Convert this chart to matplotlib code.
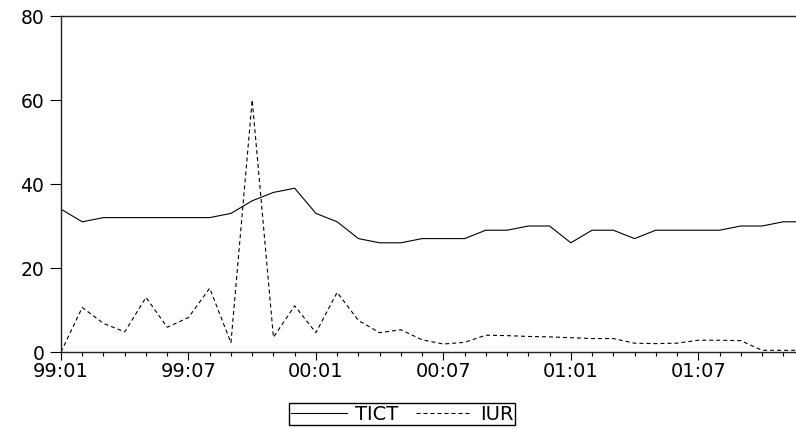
import matplotlib.pyplot as plt
import numpy as np
from matplotlib.ticker import MultipleLocator, FixedLocator

# monthly series 1999:01 - 2001:12
tict = [34, 31, 32, 32, 32, 32, 32, 32, 33, 36, 38, 39,
        33, 31, 27, 26, 26, 27, 27, 27, 29, 29, 30, 30,
        26, 29, 29, 27, 29, 29, 29, 29, 30, 30, 31, 31]
iur = [0.0, 10.6, 6.8, 4.8, 13.0, 5.9, 8.2, 15.2, 2.2, 60.0, 3.5, 11.0,
       4.6, 14.2, 7.5, 4.6, 5.3, 2.9, 1.9, 2.3, 4.0, 3.9, 3.7, 3.6,
       3.4, 3.2, 3.2, 2.1, 2.0, 2.1, 2.8, 2.8, 2.7, 0.4, 0.4, 0.4]
tick_labels = ['99:01', '99:07', '00:01', '00:07', '01:01', '01:07']

plt.rcParams['font.family'] = 'DejaVu Sans'

fig = plt.figure(figsize=(7.96, 4.29), dpi=100)
ax = fig.add_axes([61/796, 1 - 352/429, 1 - 61/796, (352 - 16)/429])

t = np.arange(len(tict))
ax.plot(t, tict, color='black', lw=0.8, label='TICT')
ax.plot(t, iur, color='black', lw=0.8, dashes=(3.6, 2.7), label='IUR')

# the original picture is cut off on the right, just before 01:12
ax.set_xlim(0, 34.6)
ax.set_ylim(0, 80)
ax.yaxis.set_major_locator(FixedLocator([0, 20, 40, 60, 80]))
ax.xaxis.set_major_locator(FixedLocator(np.arange(0, 31, 6)))
ax.xaxis.set_minor_locator(MultipleLocator(1))
ax.set_xticklabels(tick_labels)

ax.spines['right'].set_visible(False)
for s in ['left', 'bottom', 'top']:
    ax.spines[s].set_linewidth(1.0)
    ax.spines[s].set_color('#222222')

ax.tick_params(axis='y', direction='out', length=8, width=0.8, pad=4, labelsize=13.5)
ax.tick_params(axis='x', which='major', direction='out', length=5.5, width=0.8, pad=2, labelsize=14)
ax.tick_params(axis='x', which='minor', direction='out', length=3, width=0.8)

fig.legend(loc='center', bbox_to_anchor=(402/796, 1 - 414/429), ncol=2,
           frameon=True, fancybox=False, edgecolor='black', framealpha=1,
           fontsize=14, handlelength=2.9, handletextpad=0.4, columnspacing=0.9,
           borderpad=0.1, borderaxespad=0)

fig.savefig('out.png', dpi=100)
